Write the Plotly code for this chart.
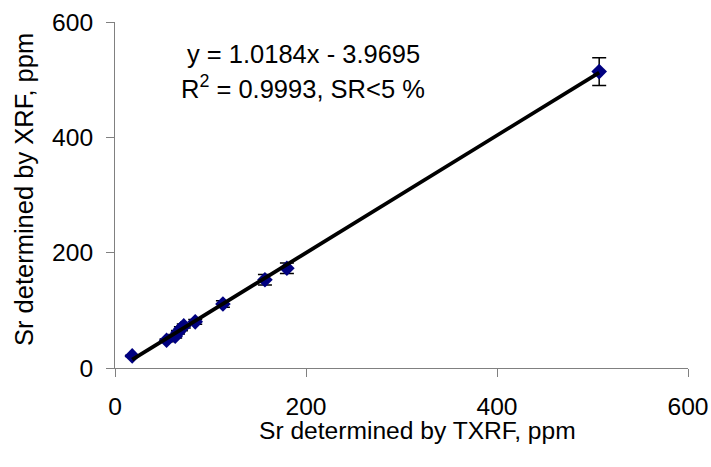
import numpy as np
import plotly.graph_objects as go

# Data
txrf = [18, 54, 63, 66, 69, 72, 84, 113, 157, 180, 507]
xrf = [21, 48, 55, 62, 68, 73, 80, 111, 153, 173, 514]
xrf_err = [1, 2.5, 3, 3, 3.5, 3.5, 4, 5.5, 9, 9, 24]

slope = 1.0184
intercept = -3.9695
eq_text = "y = 1.0184x - 3.9695"
r2_text = "R<sup>2</sup> = 0.9993, SR&lt;5 %"

x_title = "Sr determined by TXRF, ppm"
y_title = "Sr determined by XRF, ppm"
tick_vals = [0, 200, 400, 600]

FONT = "Liberation Sans, Arial, sans-serif"
FS = 24.6

W, H = 711, 467
L, R, T, B = 115, 23, 22, 99
PW, PH = W - L - R, H - T - B


def px(x):
    return (x - L) / PW


def py(y):
    return (H - B - y) / PH


fit_x = np.array([min(txrf), max(txrf)])
fit_y = slope * fit_x + intercept

fig = go.Figure()
fig.add_trace(go.Scatter(
    x=txrf, y=xrf, mode="markers",
    marker=dict(symbol="diamond", size=12, color="#000080"),
    error_y=dict(type="data", array=xrf_err, visible=True,
                 color="black", thickness=1.5, width=7),
    showlegend=False, cliponaxis=False,
))
fig.add_trace(go.Scatter(
    x=fit_x, y=fit_y, mode="lines",
    line=dict(color="black", width=3.8),
    showlegend=False, cliponaxis=False,
))

fig.add_annotation(x=px(303), y=py(54), xref="paper", yref="paper", text=eq_text,
                   showarrow=False, xanchor="center", yanchor="middle",
                   font=dict(family=FONT, size=25.5, color="black"))
fig.add_annotation(x=px(303), y=py(87), xref="paper", yref="paper", text=r2_text,
                   showarrow=False, xanchor="center", yanchor="middle",
                   font=dict(family=FONT, size=25.5, color="black"))

# axis titles
fig.add_annotation(x=px(418), y=py(430), xref="paper", yref="paper", text=x_title,
                   showarrow=False, xanchor="center", yanchor="middle",
                   font=dict(family=FONT, size=FS, color="black"))
fig.add_annotation(x=px(24), y=py(190), xref="paper", yref="paper", text=y_title,
                   showarrow=False, xanchor="center", yanchor="middle", textangle=-90,
                   font=dict(family=FONT, size=25.5, color="black"))

axis_common = dict(
    range=[0, 600], tickvals=tick_vals, showgrid=False, zeroline=False,
    showline=True, linecolor="#808080", linewidth=1,
    ticks="outside", ticklen=8, tickcolor="#808080", tickwidth=1,
    tickfont=dict(family=FONT, size=FS, color="black"),
    automargin=False,
)

fig.update_layout(
    width=W, height=H,
    margin=dict(l=L, r=R, t=T, b=B),
    paper_bgcolor="white", plot_bgcolor="white",
    font=dict(family=FONT, color="black"),
    xaxis=dict(**axis_common, ticklabelstandoff=8),
    yaxis=dict(**axis_common, ticklabelstandoff=8),
)

fig.write_html("out.html", config={"displayModeBar": False},
               post_script="document.body.style.margin='0';document.body.style.overflow='hidden';")
